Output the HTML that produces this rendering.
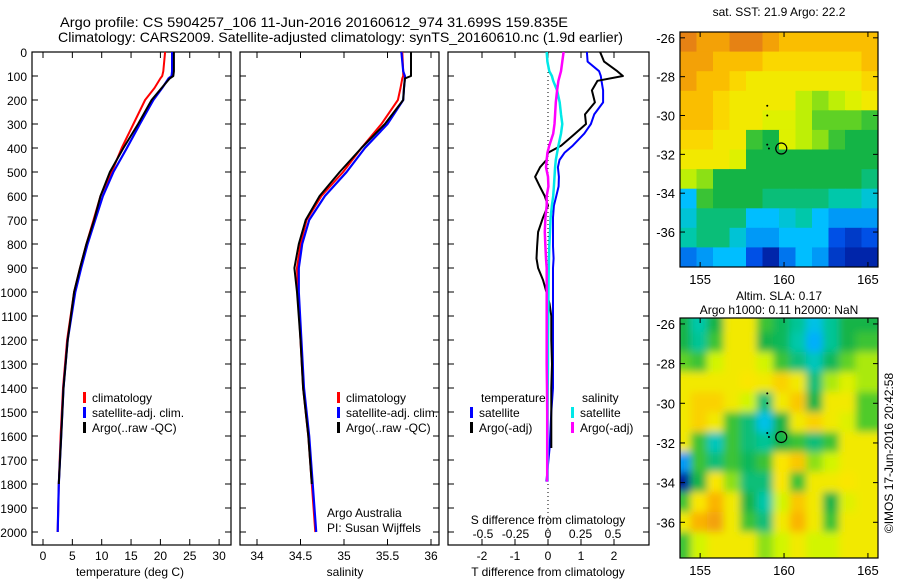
<!DOCTYPE html>
<html><head><meta charset="utf-8"><style>
html,body{margin:0;padding:0;background:#fff;}
svg{display:block;font-family:"Liberation Sans",sans-serif;}
</style></head><body>
<svg id="fig" width="900" height="580" viewBox="0 0 900 580" xmlns="http://www.w3.org/2000/svg">
<defs>
<filter id="blur" x="-5%" y="-5%" width="110%" height="110%"><feGaussianBlur stdDeviation="4"/></filter>
<clipPath id="clipTop"><rect x="680" y="32" width="198" height="235"/></clipPath>
<clipPath id="clipBot"><rect x="680" y="318" width="198" height="240"/></clipPath>
</defs>
<text x="60" y="27" text-anchor="start" font-size="14" textLength="508" lengthAdjust="spacingAndGlyphs">Argo profile: CS 5904257_106 11-Jun-2016 20160612_974 31.699S 159.835E</text>
<text x="58" y="42" text-anchor="start" font-size="14" textLength="565" lengthAdjust="spacingAndGlyphs">Climatology: CARS2009. Satellite-adjusted climatology: synTS_20160610.nc (1.9d earlier)</text>
<g id="g"></g>
</svg>
<script>
// ---------- data ----------
const depthT=[0,80,100,110,150,200,300,400,500,600,700,800,900,1000,1200,1400,1600,1800,2000];
const climT=[20.8,20.5,20.3,20.0,19.0,17.4,15.4,13.4,11.7,9.8,8.6,7.4,6.3,5.3,4.1,3.4,3.0,2.7,2.5];
const satT=[22.0,22.0,21.9,21.4,20.3,18.8,16.5,14.3,12.0,10.2,8.9,7.6,6.5,5.5,4.2,3.5,3.1,2.7,2.5];
const argoT=[22.3,22.3,22.2,21.6,20.2,18.5,16.2,13.7,11.4,9.8,8.7,7.4,6.3,5.3,4.2,3.5,3.1,2.7,2.5];
const depthS=[0,80,100,110,150,200,300,400,500,600,700,800,900,1000,1200,1400,1600,1800,2000];
const climS=[35.67,35.68,35.68,35.67,35.65,35.62,35.43,35.2,34.99,34.74,34.57,34.5,34.46,34.47,34.5,34.53,34.59,34.63,34.67];
const satS=[35.66,35.68,35.7,35.7,35.69,35.68,35.5,35.24,35.03,34.78,34.6,34.52,34.48,34.48,34.51,34.54,34.6,34.64,34.68];
const argoS=[35.77,35.77,35.77,35.7,35.69,35.68,35.47,35.2,34.95,34.72,34.56,34.48,34.43,34.46,34.5,34.53,34.59,34.63,34.66];
const dDepth=[0,40,80,100,120,160,210,260,300,340,390,420,450,480,520,560,600,640,690,750,810,860,900,950,1000,1050,1100,1200,1300,1400,1500,1650,1790];
const argoDT=[1.58,1.7,2.1,2.27,1.5,1.33,1.42,1.12,1.15,0.82,0.4,0.0,-0.05,-0.24,-0.39,-0.25,-0.1,0,-0.15,-0.3,-0.33,-0.35,-0.3,-0.15,-0.05,0.05,0.1,0.1,0.12,0.1,0.1,0.1,0.08];
const satDT=[1.18,1.2,1.55,1.6,1.62,1.67,1.67,1.4,1.3,1.1,0.75,0.5,0.35,0.3,0.33,0.32,0.25,0.18,0.15,0.15,0.15,0.17,0.15,0.15,0.15,0.15,0.15,0.15,0.15,0.15,0.1,0.05,-0.05];
const satDS=[-0.01,-0.005,0.01,0.03,0.04,0.07,0.09,0.1,0.11,0.1,0.08,0.07,0.06,0.055,0.05,0.045,0.04,0.03,0.02,0.015,0.01,0.008,0.006,0.005,0.004,0.003,0.002,0.0,0.0,-0.002,-0.003,-0.003,-0.003];
const argoDS=[0.12,0.11,0.1,0.09,0.08,0.07,0.06,0.055,0.05,0.04,0.01,-0.005,-0.01,-0.015,0,0.003,-0.01,-0.01,-0.02,-0.025,-0.02,-0.015,-0.01,-0.01,-0.01,-0.01,-0.01,-0.01,-0.01,-0.008,-0.006,-0.006,-0.006];
const depthTicks=[0,100,200,300,400,500,600,700,800,900,1000,1100,1200,1300,1400,1500,1600,1700,1800,1900,2000];
const tTicks=[0,5,10,15,20,25,30];
const sTicks=[34,34.5,35,35.5,36];
const dtTicks=[-2,-1,0,1,2];
const dsTicks=[-0.5,-0.25,0,0.25,0.5];
const dsTickLabels=["-0.5","-0.25","0","0.25","0.5"];
const sstGrid=[
[1.0,.95,.95,1.0,1.0,.95,.9,.9,.9,.9,.9,.9],
[.95,.95,.9,.9,.9,.85,.85,.85,.85,.85,.85,.9],
[.95,.9,.9,.85,.8,.8,.8,.8,.8,.8,.8,.85],
[.9,.9,.85,.8,.8,.8,.8,.7,.65,.7,.75,.8],
[.9,.9,.85,.8,.8,.75,.75,.7,.6,.6,.6,.55],
[.85,.85,.8,.8,.55,.5,.75,.7,.65,.55,.5,.5],
[.8,.8,.8,.75,.5,.5,.5,.5,.5,.5,.5,.5],
[.7,.65,.5,.5,.5,.5,.5,.5,.5,.5,.5,.45],
[.3,.55,.5,.5,.5,.45,.45,.45,.45,.4,.4,.35],
[.35,.45,.45,.45,.3,.3,.35,.4,.3,.25,.25,.25],
[.4,.45,.45,.35,.25,.25,.3,.3,.3,.15,.1,.15],
[.2,.25,.3,.3,.15,.05,.2,.3,.25,.1,.05,.05]];
const slaGrid=[
[.5,.4,.5,.8,.8,.55,.48,.42,.33,.42,.5,.5],
[.5,.42,.55,.8,.8,.5,.48,.4,.28,.42,.5,.55],
[.6,.55,.72,.8,.8,.72,.55,.45,.38,.48,.6,.68],
[.8,.8,.8,.8,.82,.8,.86,.8,.45,.68,.75,.68],
[.8,.86,.86,.8,.72,.45,.8,.88,.5,.8,.8,.58],
[.8,.86,.8,.55,.45,.33,.5,.8,.86,.8,.75,.58],
[.8,.55,.38,.55,.45,.42,.5,.55,.45,.55,.8,.8],
[.25,.55,.45,.55,.48,.55,.82,.88,.65,.72,.8,.8],
[.03,.5,.82,.65,.45,.45,.82,.55,.8,.8,.82,.8],
[.55,.82,.92,.8,.5,.4,.72,.88,.8,.5,.75,.8],
[.8,.92,.95,.8,.55,.45,.8,.92,.8,.55,.8,.8],
[.55,.72,.8,.8,.8,.65,.72,.8,.72,.72,.8,.8]];
const trackLon=[159.0,159.0,159.0,159.1];
const trackLat=[-29.5,-30.0,-31.5,-31.7];
const argoLon=159.835, argoLat=-31.699;
const lonTicks=[155,160,165];
const latTicks=[-26,-28,-30,-32,-34,-36];

// ---------- helpers ----------
const NS="http://www.w3.org/2000/svg";
const G=document.getElementById('g');
function el(tag,attrs,parent){const e=document.createElementNS(NS,tag);for(const k in attrs)e.setAttribute(k,attrs[k]);(parent||G).appendChild(e);return e;}
function txt(x,y,s,size,anchor,parent){const e=el('text',{x:x,y:y,'font-size':size||12,'text-anchor':anchor||'middle'},parent);e.textContent=s;return e;}
const YTOP=52,YBOT=545;
const yD=d=>52+d*0.24;
const xT=v=>43+v*5.87;
const xS=v=>257+(v-34)*87;
const xDT=v=>548+v*33;
const xDS=v=>548+v*130;

function panel(x0,x1,name){
  const r=el('rect',{x:x0,y:YTOP,width:x1-x0,height:YBOT-YTOP,fill:'none',stroke:'#000','stroke-width':1.2});
  
  
  depthTicks.forEach(d=>{
    const y=yD(d);
    el('line',{x1:x0,x2:x0+6,y1:y,y2:y,stroke:'#000'});
    el('line',{x1:x1,x2:x1-6,y1:y,y2:y,stroke:'#000'});
  });
}
function line(xs,ds,fx,color,w,name,parent){
  const pts=xs.map((v,i)=>fx(v).toFixed(1)+','+yD(ds[i]).toFixed(1)).join(' ');
  const p=el('polyline',{points:pts,fill:'none',stroke:color,'stroke-width':w,'stroke-linejoin':'round'},parent);
  
  
  return p;
}
function legendItem(x,y,color,label,nm){
  const g=el('g',{});
  
  
  el('rect',{x:x,y:y-10,width:3,height:11,fill:color},g);
  txt(x+9,y,label,12,'start',g);
}

// Panel 1: temperature
panel(32,231,'temperature-panel');
depthTicks.forEach(d=>{const t=txt(27,yD(d)+5,String(d),12,'end');});
tTicks.forEach(v=>{const x=xT(v);el('line',{x1:x,x2:x,y1:YTOP,y2:YTOP+6,stroke:'#000'});el('line',{x1:x,x2:x,y1:YBOT,y2:YBOT-6,stroke:'#000'});const t=txt(x,560,String(v),12);});
line(climT,depthT,xT,'#ff0000',2,'temperature-climatology-line');
line(satT,depthT,xT,'#0000ff',2.2,'temperature-satellite-line');
line(argoT.slice(0,18),depthT.slice(0,18),xT,'#000',2,'temperature-argo-line');
legendItem(83,402,'#f00','climatology','legend-climatology');
legendItem(83,417,'#00f','satellite-adj. clim.','legend-satellite');
legendItem(83,432,'#000','Argo(..raw -QC)','legend-argo');
{const t=txt(130,576,'temperature (deg C)',12);}

// Panel 2: salinity
panel(240,439,'salinity-panel');
sTicks.forEach(v=>{const x=xS(v);el('line',{x1:x,x2:x,y1:YTOP,y2:YTOP+6,stroke:'#000'});el('line',{x1:x,x2:x,y1:YBOT,y2:YBOT-6,stroke:'#000'});const t=txt(x,560,String(v),12);});
line(climS,depthS,xS,'#ff0000',2,'salinity-climatology-line');
line(satS,depthS,xS,'#0000ff',2.2,'salinity-satellite-line');
line(argoS.slice(0,18),depthS.slice(0,18),xS,'#000',2,'salinity-argo-line');
legendItem(337,402,'#f00','climatology','legend-climatology-2');
legendItem(337,417,'#00f','satellite-adj. clim.','legend-satellite-2');
legendItem(337,432,'#000','Argo(..raw -QC)','legend-argo-2');
{const t=txt(327,517,'Argo Australia',12,'start');
const t2=txt(327,532,'PI: Susan Wijffels',12,'start');
const t3=txt(345,576,'salinity',12);}

// Panel 3: differences
panel(448,649,'difference-panel');
el('line',{x1:548,x2:548,y1:YTOP,y2:YBOT,stroke:'#000','stroke-dasharray':'1,3'});
dtTicks.forEach(v=>{const x=xDT(v);el('line',{x1:x,x2:x,y1:YTOP,y2:YTOP+6,stroke:'#000'});el('line',{x1:x,x2:x,y1:YBOT,y2:YBOT-6,stroke:'#000'});const t=txt(x,560,String(v),12);});
dsTicks.forEach((v,i)=>{const t=txt(xDS(v),538,dsTickLabels[i],12);});
line(satDT,dDepth,xDT,'#0000ff',2,'t-diff-satellite-line');
line(argoDT.slice(0,32),dDepth.slice(0,32),xDT,'#000',2,'t-diff-argo-line');
line(satDS,dDepth,xDS,'#00e8e8',2.5,'s-diff-satellite-line');
line(argoDS,dDepth,xDS,'#ff00ff',2.5,'s-diff-argo-line');
{const t=txt(481,402,'temperature',12,'start');
const t2=txt(582,402,'salinity',12,'start');}
legendItem(470,417,'#00f','satellite','legend-t-satellite');
legendItem(470,432,'#000','Argo(-adj)','legend-t-argo');
legendItem(571,417,'#00e8e8','satellite','legend-s-satellite');
legendItem(571,432,'#ff00ff','Argo(-adj)','legend-s-argo');
{const t=txt(548,524,'S difference from climatology',12);
const t2=txt(548,576,'T difference from climatology',12);}

// ---------- maps ----------
const stops=[[0,[0,16,140]],[0.15,[0,80,230]],[0.3,[0,190,255]],[0.4,[0,200,170]],[0.5,[20,180,70]],[0.62,[110,215,30]],[0.72,[210,245,0]],[0.82,[250,230,0]],[0.92,[250,180,0]],[1,[230,130,20]]];
function cmap(v){for(let i=1;i<stops.length;i++){if(v<=stops[i][0]){const a=stops[i-1],b=stops[i];const f=(v-a[0])/(b[0]-a[0]);const c=a[1].map((q,k)=>Math.round(q+(b[1][k]-q)*f));return 'rgb('+c.join(',')+')';}}return 'rgb(230,130,20)';}
function map(grid,top,bottom,clip,blur,name){
  const x0=680,x1=878;
  const lonMin=153.8,lonMax=165.6,latMax=-25.7,latMin=-37.8;
  const px=lon=>x0+(lon-lonMin)/(lonMax-lonMin)*(x1-x0);
  const py=lat=>top+(latMax-lat)/(latMax-latMin)*(bottom-top);
  const wrap=el('g',{'clip-path':'url(#'+clip+')'});
  const g=el('g',blur?{filter:'url(#blur)'}:{},wrap);
  const nr=grid.length,nc=grid[0].length;
  const cw=(x1-x0)/nc,ch=(bottom-top)/nr;
  grid.forEach((row,r)=>row.forEach((v,c)=>{
    const cell=el('rect',{x:(x0+c*cw-(blur?6:0)).toFixed(1),y:(top+r*ch-(blur?6:0)).toFixed(1),width:(cw+0.6+(blur?12:0)).toFixed(1),height:(ch+0.6+(blur?12:0)).toFixed(1),fill:cmap(v)},g);
    
    
  }));
  const fr=el('rect',{x:x0,y:top,width:x1-x0,height:bottom-top,fill:'none',stroke:'#000','stroke-width':1.2});
  
  
  lonTicks.forEach(l=>{const x=px(l);el('line',{x1:x,x2:x,y1:top,y2:top+5,stroke:'#000'});el('line',{x1:x,x2:x,y1:bottom,y2:bottom-5,stroke:'#000'});const t=txt(x,bottom+17,String(l),13);});
  latTicks.forEach(l=>{const y=py(l);el('line',{x1:x0,x2:x0+5,y1:y,y2:y,stroke:'#000'});el('line',{x1:x1,x2:x1-5,y1:y,y2:y,stroke:'#000'});const t=txt(675,y+5,String(l),13,'end');});
  trackLon.forEach((lo,i)=>{const d=el('circle',{cx:px(lo),cy:py(trackLat[i]),r:1,fill:'#000'});});
  const c=el('circle',{cx:px(argoLon),cy:py(argoLat),r:5.5,fill:'none',stroke:'#000','stroke-width':1.2});
  
  
}
map(sstGrid,32,267,'clipTop',false,'sst-map');
map(slaGrid,318,558,'clipBot',true,'sla-map');
{const t=txt(779,16,'sat. SST: 21.9 Argo: 22.2',12);
const t2=txt(779,300,'Altim. SLA: 0.17',12);
const t3=txt(779,314,'Argo h1000: 0.11 h2000: NaN',12);
const t4=txt(0,0,'©IMOS 17-Jun-2016 20:42:58',12);t4.setAttribute('transform','translate(893,453) rotate(-90)');}
</script>
</body></html>
